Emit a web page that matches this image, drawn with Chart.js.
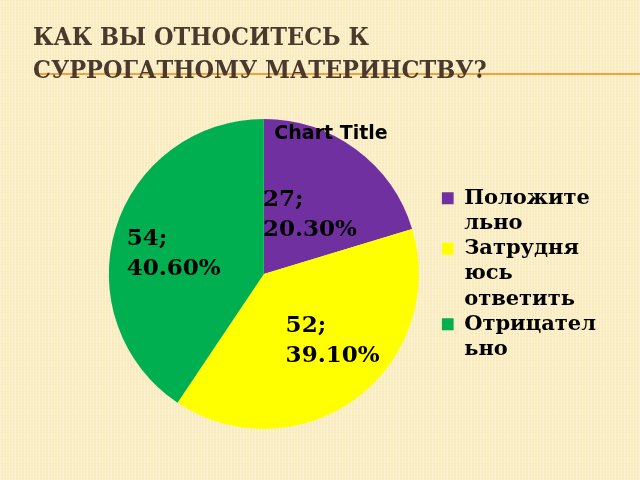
<!DOCTYPE html>
<html>
<head>
<meta charset="utf-8">
<script src="https://cdn.jsdelivr.net/npm/chart.js@4.4.1/dist/chart.umd.min.js"></script>
<style>
  html, body {
    margin: 0;
    padding: 0;
    width: 640px;
    height: 480px;
    overflow: hidden;
  }
  body {
    position: relative;
    background-color: #faebbd;
    background-image:
      repeating-linear-gradient(90deg, rgba(255,255,255,0.35) 0 1px, transparent 1px 3px),
      repeating-linear-gradient(0deg, rgba(255,255,255,0.12) 0 1px, transparent 1px 3px);
  }
  #slideTitle {
    position: absolute;
    left: 33px;
    top: 20px;
    margin: 0;
    font-family: "DejaVu Serif Condensed", "DejaVu Serif", serif;
    font-stretch: condensed;
    font-weight: bold;
    font-size: 25px;
    line-height: 33px;
    color: #4a3a2d;
    z-index: 2;
  }
  #titleRule {
    position: absolute;
    left: 35px;
    right: 0;
    top: 73px;
    height: 2px;
    background: #f0a23c;
    z-index: 1;
  }
  #chartBox {
    position: absolute;
    left: 0;
    top: 0;
    width: 640px;
    height: 480px;
  }
</style>
</head>
<body>
<div id="titleRule"></div>
<h1 id="slideTitle">КАК ВЫ ОТНОСИТЕСЬ К<br>СУРРОГАТНОМУ МАТЕРИНСТВУ?</h1>
<div id="chartBox"><canvas id="pieChart"></canvas></div>

<script>
// Chart data
const categories = ['Положительно', 'Затрудняюсь ответить', 'Отрицательно'];
const legendLabels = [['Положите', 'льно'], ['Затрудня', 'юсь', 'ответить'], ['Отрицател', 'ьно']];
const answers = [27, 52, 54];
const sliceColors = ['#7030a0', '#ffff00', '#00b050'];

// Value + percent labels drawn at each slice
const sliceLabels = {
  id: 'sliceLabels',
  afterDatasetsDraw(chart, args, opts) {
    const ctx = chart.ctx;
    const values = chart.data.datasets[0].data;
    const total = values.reduce((a, b) => a + b, 0);
    const arcs = chart.getDatasetMeta(0).data;
    ctx.save();
    ctx.font = 'bold 23px "DejaVu Serif"';
    ctx.fillStyle = '#000';
    ctx.textAlign = 'left';
    ctx.textBaseline = 'alphabetic';
    arcs.forEach((arc, i) => {
      const pos = arc.tooltipPosition();
      const lines = [values[i] + ';', (values[i] / total * 100).toFixed(2) + '%'];
      const w = Math.max(...lines.map(l => ctx.measureText(l).width));
      const off = opts.offsets[i];
      const cx = pos.x + off[0];
      const cy = pos.y + off[1];
      const x = cx - w / 2;
      lines.forEach((l, j) => {
        ctx.fillText(l, x, cy + (j - 0.5) * 30 + 8.4);
      });
    });
    ctx.restore();
  }
};

// Excel style chart caption sitting over the top of the pie
const chartCaption = {
  id: 'chartCaption',
  afterDraw(chart, args, opts) {
    const ctx = chart.ctx;
    ctx.save();
    ctx.font = 'bold 19px "DejaVu Sans"';
    ctx.fillStyle = '#000';
    ctx.textAlign = 'center';
    ctx.textBaseline = 'alphabetic';
    ctx.fillText(opts.text, opts.x, opts.y);
    ctx.restore();
  }
};

const ctx = document.getElementById('pieChart').getContext('2d');
new Chart(ctx, {
  type: 'pie',
  data: {
    labels: categories,
    datasets: [{
      data: answers,
      backgroundColor: sliceColors,
      borderWidth: 0
    }]
  },
  options: {
    responsive: true,
    maintainAspectRatio: false,
    animation: false,
    layout: {
      padding: { left: 86, top: 119, bottom: 51, right: 34 }
    },
    plugins: {
      legend: {
        position: 'right',
        maxWidth: 170,
        // empty title just nudges the centred items down a little
        title: { display: true, text: ' ', padding: 0, font: { size: 4, lineHeight: 1 } },
        labels: {
          boxWidth: 12,
          boxHeight: 12,
          padding: 0,
          color: '#000',
          font: { family: 'DejaVu Serif', weight: 'bold', size: 21, lineHeight: 1.2 },
          generateLabels(chart) {
            return chart.data.labels.map((label, i) => ({
              text: legendLabels[i],
              fillStyle: sliceColors[i],
              strokeStyle: sliceColors[i],
              fontColor: '#000',
              lineWidth: 0,
              hidden: false,
              index: i
            }));
          }
        }
      },
      tooltip: { enabled: false },
      sliceLabels: {
        offsets: [[0, 1], [22.6, 2.4], [-16, 0]]
      },
      chartCaption: { text: 'Chart Title', x: 331, y: 139 }
    }
  },
  plugins: [sliceLabels, chartCaption]
});
</script>
</body>
</html>
